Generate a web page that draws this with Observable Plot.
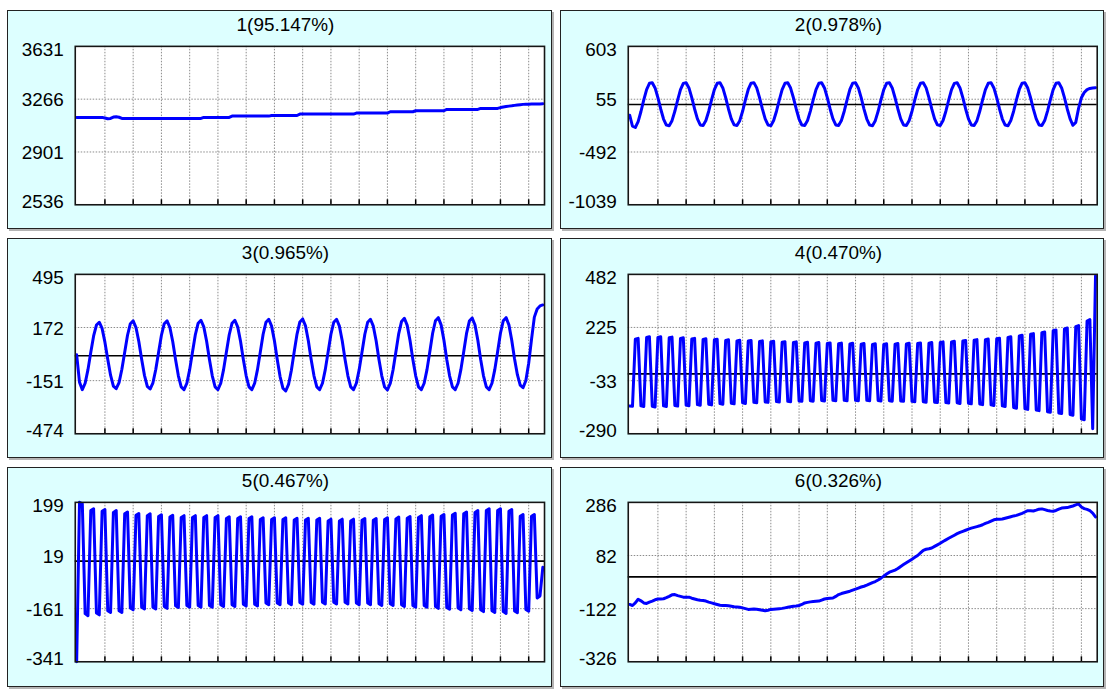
<!DOCTYPE html>
<html><head><meta charset="utf-8">
<script src="https://cdn.jsdelivr.net/npm/d3@7"></script>
<script src="https://cdn.jsdelivr.net/npm/@observablehq/plot@0.6"></script>
<style>
body{margin:0;background:#fff;}
#root{position:relative;width:1107px;height:689px;overflow:hidden;font-family:"Liberation Sans",Arial,sans-serif;}
.panel{position:absolute;box-sizing:border-box;border:1.5px solid #222;background:#ddffff;box-shadow:2px 2px 0 #b4b4b4;}
.panel svg{position:absolute;left:-1.5px;top:-1.5px;overflow:visible;}
</style></head><body><div id="root"></div>
<script>
// ---------- data ----------
const titles = ["1(95.147%)","2(0.978%)","3(0.965%)","4(0.470%)","5(0.467%)","6(0.326%)"];
const yTicks1 = [3631,3266,2901,2536];
const yTicks2 = [603,55,-492,-1039];
const yTicks3 = [495,172,-151,-474];
const yTicks4 = [482,225,-33,-290];
const yTicks5 = [199,19,-161,-341];
const yTicks6 = [286,82,-122,-326];
const xTicks = [10,20,30,40,50,60,70,80,90,100,110,120,130,140,150,160];

const comp1 = [
3140,3140,3140,3140,3140,3140,3140,3140,3140,3140,
3136,3131,3133,3142,3144,3141,
3133,3133,3133,3133,3133,3133,3133,3133,3133,3133,3133,3133,3133,3133,3133,3133,3133,3133,3133,3133,3133,3133,3133,3133,3133,3133,3133,3133,3133,
3140,3140,3140,3140,3140,3140,3140,3140,3140,3140,
3149,3149,3149,3149,3149,3149,3149,3149,3149,3149,3149,3149,3149,3149,
3153,3153,3153,3153,3153,3153,3153,3153,3153,3153,
3163,3163,3163,3163,3163,3163,3163,3163,3163,3163,3163,3163,3163,3163,3163,3163,3163,3163,3163,3163,
3170,3170,3170,3170,3170,3170,3170,3170,3170,3170,3170,3170,
3179,3179,3179,3179,3179,3179,3179,3179,3179,
3186,3186,3186,3186,3186,3186,3186,3186,3186,3186,3186,
3195,3195,3195,3195,3195,3195,3195,3195,3195,3195,3195,3195,
3202,3202,3202,3202,3202,3202,3202,
3208,3212,3215,3218,3220,3223,3226,3228,
3230,3231,3231,3232,3232,3233,3233,3234];

const comp2 = [
-110,-225,-238,-178,-72,48,155,220,226,172,71,-46,
-150,-213,-219,-167,-70,47,154,219,226,172,71,-46,
-149,-212,-218,-166,-69,48,155,220,226,172,71,-46,
-148,-211,-218,-167,-70,48,156,221,227,173,72,-45,
-149,-212,-219,-166,-69,47,155,220,226,171,70,-46,
-150,-213,-218,-165,-68,48,155,220,226,172,71,-46,
-149,-212,-218,-166,-69,49,156,221,227,172,71,-47,
-150,-213,-219,-167,-70,48,155,220,226,172,70,-46,
-149,-212,-218,-166,-69,48,155,220,226,173,72,-45,
-148,-211,-218,-166,-69,47,154,219,226,172,71,-46,
-149,-212,-218,-167,-70,48,155,220,227,172,71,-46,
-150,-213,-219,-166,-69,48,156,221,226,171,70,-47,
-149,-212,-218,-166,-68,49,155,220,226,172,71,-46,
-149,-215,-185,-40,70,125,155,167,172,174];

const comp3 = [
6,-160,-206,-167,-84,22,121,187,204,166,83,-21,
-118,-184,-200,-163,-82,22,125,195,212,172,87,-21,
-119,-186,-202,-164,-83,22,125,195,212,172,87,-22,
-122,-189,-206,-167,-84,23,128,198,216,176,88,-22,
-122,-189,-206,-167,-84,23,128,198,216,176,88,-22,
-122,-189,-206,-167,-84,23,131,204,222,180,91,-23,
-126,-197,-214,-174,-88,24,132,206,224,182,92,-22,
-122,-189,-206,-167,-84,23,131,204,222,180,91,-22,
-122,-189,-206,-167,-84,23,131,204,222,180,91,-22,
-122,-190,-207,-168,-85,24,135,209,228,185,93,-22,
-122,-189,-206,-167,-84,24,137,213,232,188,95,-22,
-122,-189,-206,-167,-84,24,136,211,230,187,94,-22,
-122,-189,-206,-167,-84,24,137,213,232,188,95,-20,
-115,-178,-194,-150,-45,100,235,285,303,309];

const comp4 = [
-155,-157,168,172, -155,-158,176,180, -157,-160,177,180, -155,-158,175,178,
-153,-156,172,175, -151,-154,169,172, -149,-152,167,170, -147,-150,165,168,
-144,-147,162,165, -142,-145,160,163, -140,-143,159,162, -138,-140,157,160,
-136,-138,155,158, -134,-136,153,156, -133,-135,152,155, -131,-133,150,153,
-130,-132,149,152, -129,-131,147,150, -128,-130,146,149, -128,-130,145,148,
-128,-130,144,147, -128,-130,143,146, -129,-131,143,146, -130,-132,144,147,
-131,-133,145,148, -133,-135,147,150, -135,-137,149,152, -137,-139,152,155,
-139,-141,155,158, -140,-143,159,162, -142,-145,163,166, -146,-149,166,169,
-150,-153,170,173, -155,-158,177,180, -163,-166,184,187, -169,-172,192,195,
-175,-178,200,203, -183,-186,209,213, -189,-192,218,222, -197,-200,229,234,
-218,-222,256,263,
-266,475];

const comp5 = [
-341,
199,194,-178,-185, 171,177,-176,-182, 169,175,-168,-174, 165,171,-168,-174,
160,166,-159,-165, 155,161,-156,-162, 154,160,-156,-162, 151,157,-154,-160,
149,155,-151,-157, 148,154,-150,-156, 148,154,-150,-156, 148,154,-150,-156,
148,154,-148,-154, 144,150,-148,-154, 144,150,-146,-152, 144,150,-146,-152,
141,147,-142,-148, 141,147,-142,-148, 141,147,-142,-148, 139,145,-140,-146,
139,145,-140,-146, 139,145,-139,-145, 136,142,-139,-145, 136,142,-139,-145,
136,142,-142,-148, 138,144,-142,-148, 138,144,-144,-150, 141,147,-144,-150,
143,149,-148,-154, 145,151,-150,-156, 148,154,-150,-156, 150,156,-154,-160,
152,158,-157,-163, 156,162,-159,-165, 160,166,-161,-167, 165,171,-165,-171,
171,177,-168,-174, 171,177,-171,-177, 169,175,-169,-175, 152,158,-164,-170,
152,158,-125,-118,
-21];

const comp6 = [
-106,-110,-100,-86,-92,-100,-102,-97,-93,-88,
-85,-85,-84,-80,-75,-69,-68,-72,-75,-78,
-78,-78,-82,-85,-88,-90,-91,-93,-97,-100,
-103,-106,-109,-110,-110,-111,-113,-115,-116,-117,
-119,-122,-125,-124,-123,-124,-126,-128,-130,-128,
-125,-124,-123,-122,-121,-119,-117,-115,-113,-112,
-110,-106,-100,-98,-96,-95,-94,-93,-89,-85,
-83,-82,-81,-75,-68,-64,-61,-58,-55,-51,
-47,-43,-39,-36,-32,-27,-22,-18,-12,-5,
3,11,18,22,26,32,40,47,54,61,
68,75,82,92,102,106,108,111,117,123,
129,136,142,148,154,160,166,171,175,179,
183,187,190,193,196,200,205,209,214,219,
221,221,222,225,228,231,234,236,240,244,
249,254,254,253,256,260,261,258,255,253,
252,255,260,264,265,266,269,272,276,280,
268,262,259,254,245,230];

// ---------- layout / style ----------
const layout = [
  {left:7,   top:10,    w:545, h:219, frameRight:539},
  {left:560, top:10,    w:544, h:219, frameRight:538.7},
  {left:7,   top:238,   w:545, h:220, frameRight:539},
  {left:560, top:238,   w:544, h:220, frameRight:538.7},
  {left:7,   top:466.5, w:545, h:220, frameRight:539},
  {left:560, top:466.5, w:544, h:220, frameRight:538.7}
];
const series = [comp1, comp2, comp3, comp4, comp5, comp6];
const tickSets = [yTicks1, yTicks2, yTicks3, yTicks4, yTicks5, yTicks6];
const FONT = '"Liberation Sans", Arial, Helvetica, sans-serif';
const FS = 19;
const ML = 68, MT = 36, MB = 24;
const TITLE_X = 279;

const root = document.getElementById("root");
series.forEach((vals, p) => {
  const L = layout[p];
  const yt = tickSets[p];
  const div = document.createElement("div");
  div.className = "panel";
  div.style.left = L.left + "px";
  div.style.top = L.top + "px";
  div.style.width = L.w + "px";
  div.style.height = L.h + "px";
  const MR = L.w - L.frameRight;
  const plotH = L.h - MT - MB;
  const rows = vals.map((v, i) => ({i, v}));
  const lo = d3.min(yt), hi = d3.max(yt);
  const frameCenter = (ML + L.frameRight) / 2;
  const marks = [
    Plot.frame({fill: "white", stroke: null}),
    Plot.ruleX(xTicks, {x: d => d, stroke: "#8c8c8c", strokeWidth: 1, strokeDasharray: "1.5,1.5"}),
    Plot.ruleY([yt[1], yt[2]], {y: d => d, stroke: "#8c8c8c", strokeWidth: 1, strokeDasharray: "1.5,1.5"}),
    (lo < 0 && hi > 0) ? Plot.ruleY([0], {y: d => d, stroke: "#000", strokeWidth: 1.6}) : null,
    Plot.tickX(xTicks, {x: d => d, stroke: "#000", strokeWidth: 1.5, insetTop: plotH - 5}),
    Plot.line(rows, {x: "i", y: "v", stroke: "#0000ff", strokeWidth: 3, strokeLinejoin: "round", strokeLinecap: "round"}),
    Plot.frame({stroke: "#151515", strokeWidth: 1.6}),
    Plot.text([yt[0]], {y: d => d, text: d => String(d), frameAnchor: "left", textAnchor: "end", dx: -11.5, dy: 4, fontSize: FS, fontFamily: FONT, fill: "#000"}),
    Plot.text([yt[1], yt[2]], {y: d => d, text: d => String(d), frameAnchor: "left", textAnchor: "end", dx: -11.5, dy: 1, fontSize: FS, fontFamily: FONT, fill: "#000"}),
    Plot.text([yt[3]], {y: d => d, text: d => String(d), frameAnchor: "left", textAnchor: "end", dx: -11.5, dy: -3, fontSize: FS, fontFamily: FONT, fill: "#000"}),
    Plot.text([titles[p]], {text: d => d, frameAnchor: "top", lineAnchor: "bottom", dx: TITLE_X - frameCenter, dy: -15.5, fontSize: FS, fontFamily: FONT, fill: "#000"})
  ].filter(Boolean);
  const svg = Plot.plot({
    width: L.w, height: L.h,
    marginLeft: ML, marginTop: MT, marginRight: MR, marginBottom: MB,
    x: {domain: [-0.5, 165.6], axis: null},
    y: {domain: [lo, hi], axis: null},
    style: {background: "transparent", overflow: "visible", fontFamily: FONT, fontSize: FS + "px"},
    marks
  });
  div.appendChild(svg);
  root.appendChild(div);
});
</script>
</body></html>
